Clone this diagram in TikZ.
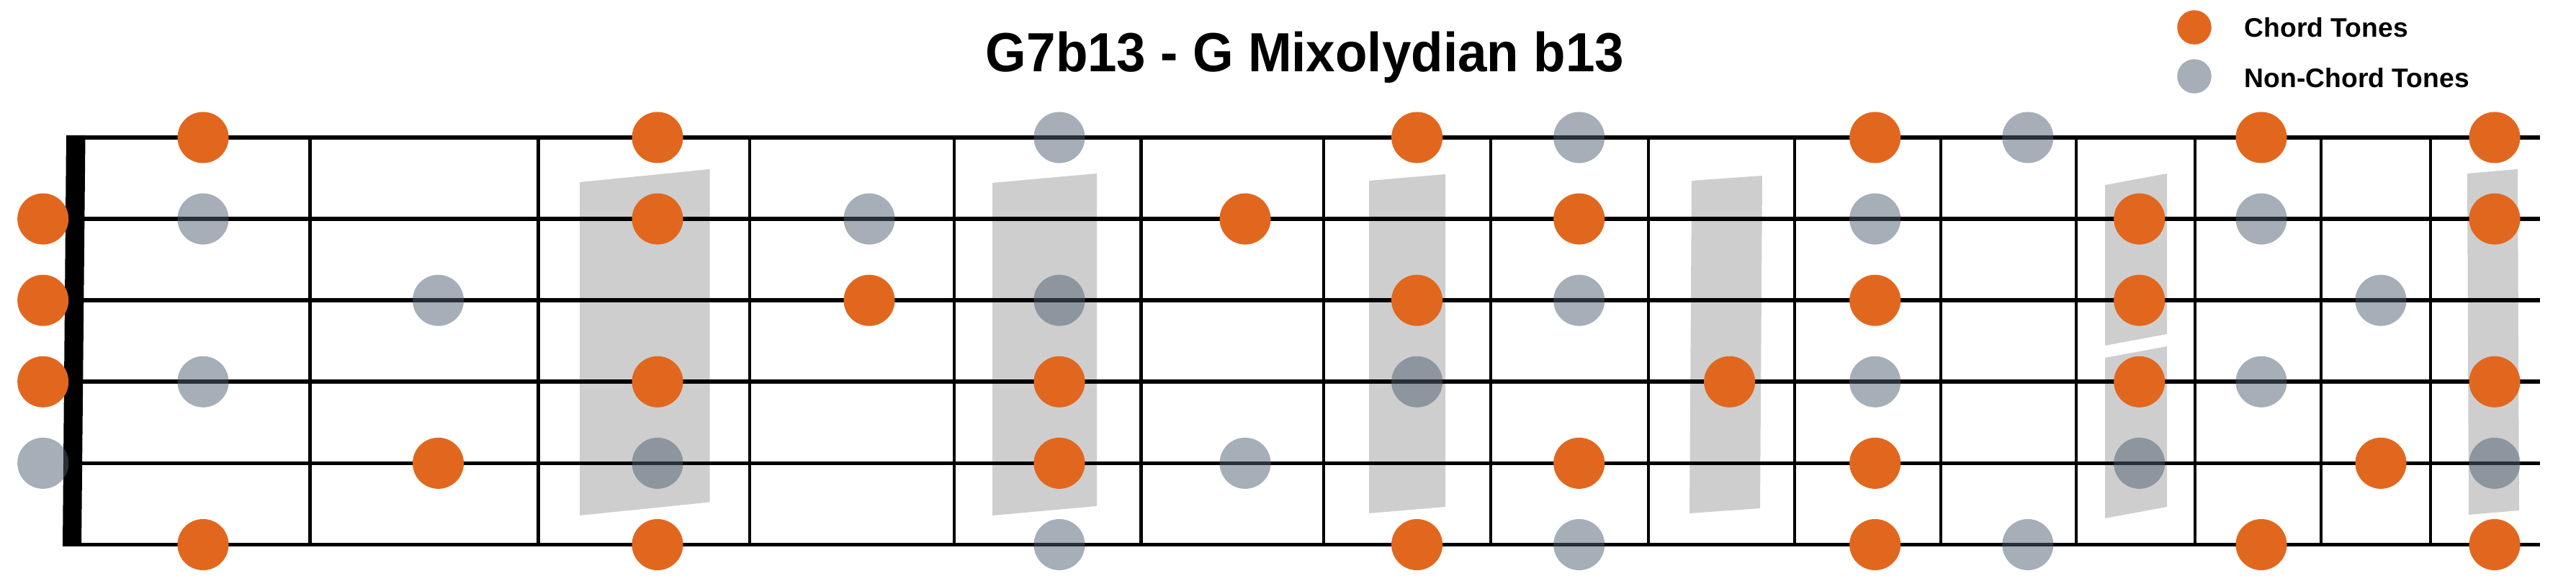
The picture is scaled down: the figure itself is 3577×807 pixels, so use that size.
\documentclass[tikz,border=0pt]{standalone}
\usepackage{fontspec}
\setmainfont{Liberation Sans}
\definecolor{chord}{RGB}{226,103,30}
\definecolor{nonchord}{RGB}{80,97,114}
\definecolor{bandc}{RGB}{206,206,206}
\begin{document}
\begin{tikzpicture}[x=0.01cm,y=-0.01cm,
  ct/.style={circle,fill=chord,inner sep=0pt,minimum size=0.71cm},
  nct/.style={circle,fill=nonchord,fill opacity=0.51,inner sep=0pt,minimum size=0.71cm},
  strg/.style={line width=1.6pt},
  fretline/.style={line width=1.3pt},
  bandfill/.style={fill=bandc},
  legtext/.style={anchor=base west,inner sep=0pt,font={\bfseries\fontsize{10.6pt}{12pt}\selectfont}}]
\useasboundingbox (0,0) rectangle (3577,807);
% shaded bands
\fill[bandfill] (805,253) -- (985.5,235) -- (985.5,697.5) -- (805,716) -- cycle;
\fill[bandfill] (1378,254) -- (1523,241) -- (1523,703) -- (1378,716) -- cycle;
\fill[bandfill] (1901,251) -- (2007,242) -- (2007,704) -- (1901,713) -- cycle;
\fill[bandfill] (2349,251) -- (2447,244) -- (2444,706) -- (2346,713) -- cycle;
\fill[bandfill] (2923,257) -- (3009,241) -- (3009,464) -- (2923,480) -- cycle;
\fill[bandfill] (2923,497) -- (3009,481) -- (3009,704) -- (2923,720) -- cycle;
\fill[bandfill] (3426,241) -- (3496,235) -- (3498,709) -- (3428,715) -- cycle;
% frets
\foreach \x in {430.5,747.5,1041,1325,1584.5,1838,2070,2289,2492,2695,2883,3048,3223,3375}
  \draw[fretline] (\x,191) -- (\x,756.5);
% strings
\draw[strg] (92,191) -- (3526.5,191);
\foreach \y in {304.1,417.2,530.3,643.4}
  \draw[strg] (105,\y) -- (3526.5,\y);
\draw[strg] (100,756.5) -- (3526.5,756.5);
% nut
\fill (92,188) -- (118.5,188) -- (113,759) -- (87,759) -- cycle;
% dots
\foreach \c/\s/\k in {
  0/2/ct,0/3/ct,0/4/ct,0/5/nct,
  1/1/ct,1/2/nct,1/4/nct,1/6/ct,
  2/3/nct,2/5/ct,
  3/1/ct,3/2/ct,3/4/ct,3/5/nct,3/6/ct,
  4/2/nct,4/3/ct,
  5/1/nct,5/3/nct,5/4/ct,5/5/ct,5/6/nct,
  6/2/ct,6/5/nct,
  7/1/ct,7/3/ct,7/4/nct,7/6/ct,
  8/1/nct,8/2/ct,8/3/nct,8/5/ct,8/6/nct,
  9/4/ct,
  10/1/ct,10/2/nct,10/3/ct,10/4/nct,10/5/ct,10/6/ct,
  11/1/nct,11/6/nct,
  12/2/ct,12/3/ct,12/4/ct,12/5/nct,
  13/1/ct,13/2/nct,13/4/nct,13/6/ct,
  14/3/nct,14/5/ct,
  15/1/ct,15/2/ct,15/4/ct,15/5/nct,15/6/ct}
{
  \pgfmathsetmacro{\xx}{{59.7,282,608.5,913,1207,1471,1729,1967.6,2192.7,2401.6,2603.7,2815.8,2970.7,3140,3306,3464}[\c]}
  \pgfmathsetmacro{\yy}{191+113.1*(\s-1)}
  \node[\k] (dot-\c-\s) at (\xx,\yy) {};
}
% title
\node[anchor=base,inner sep=0pt,font={\bfseries\fontsize{21.8pt}{26pt}\selectfont}] (title) at (1812,100) {\scalebox{0.95}[1]{G7b13 - G Mixolydian b13}};
% legend
\node[ct,minimum size=0.475cm] (legchord) at (3047,38) {};
\node[nct,minimum size=0.475cm] (legnon) at (3047,106) {};
\node[legtext] (legchordtext) at (3116,51.7) {Chord Tones};
\node[legtext] (legnontext) at (3116,121.7) {Non-Chord Tones};
\end{tikzpicture}
\end{document}
